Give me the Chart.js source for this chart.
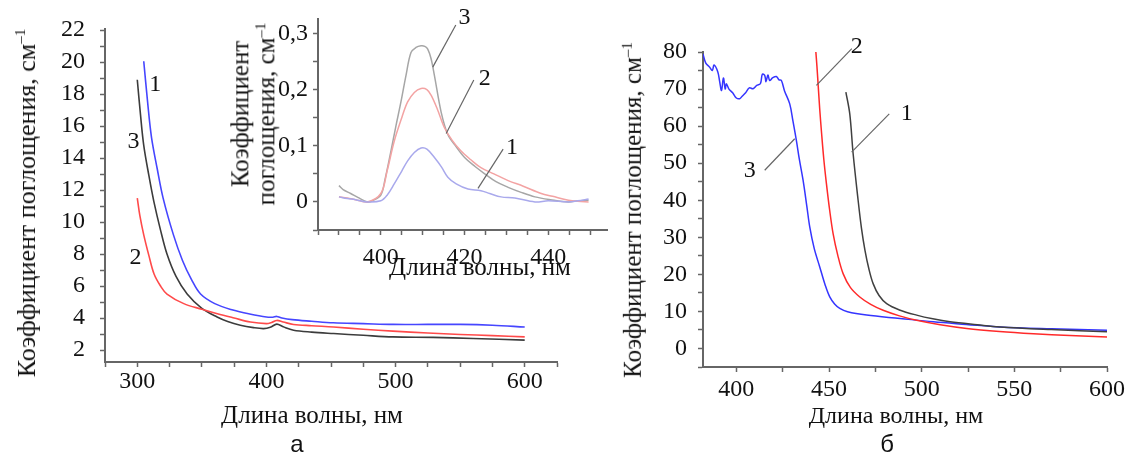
<!DOCTYPE html>
<html>
<head>
<meta charset="utf-8">
<script src="https://cdn.jsdelivr.net/npm/chart.js@4.4.0/dist/chart.umd.min.js"></script>
<style>
  body { margin: 0; background: #fff; }
  #wrap { position: relative; width: 1147px; height: 455px; background: #fff; overflow: hidden; }
  .box { position: absolute; }
  .t { position: absolute; font-family: 'Liberation Serif', serif; font-size: 24px; color: #111; white-space: nowrap; transform: translate(-50%, -50%); }
  .rot { transform: translate(-50%, -50%) rotate(-90deg); }
  .t sup { font-size: 15px; }
  .lbl { position: absolute; font-family: 'Liberation Sans', Arial, sans-serif; font-size: 24px; color: #111; transform: translate(-50%, -50%); }
</style>
</head>
<body>
<div id="wrap">
  <div class="box" style="left:0;top:0"><canvas id="chartA" width="600" height="420"></canvas></div>
  <div class="box" style="left:230px;top:0"><canvas id="chartInset" width="400" height="280"></canvas></div>
  <div class="box" style="left:640px;top:0"><canvas id="chartB" width="500" height="420"></canvas></div>

  <div class="t rot" style="left:27px;top:203px;font-size:26px">Коэффициент поглощения, см<sup>–1</sup></div>
  <div class="t" style="left:312px;top:415px;font-size:25px">Длина волны, нм</div>
  <div class="lbl" style="left:297px;top:444px">а</div>

  <div class="t rot" style="left:253px;top:114px;line-height:21px;text-align:center;font-size:25px">Коэффициент<br>поглощения, см<sup>–1</sup></div>
  <div class="t" style="left:480px;top:267px;font-size:25px">Длина волны, нм</div>

  <div class="t rot" style="left:633px;top:210px;font-size:25px">Коэффициент поглощения, см<sup>–1</sup></div>
  <div class="t" style="left:896px;top:415px">Длина волны, нм</div>
  <div class="lbl" style="left:887px;top:444px">б</div>
</div>

<script>
// --- panel a: absorption coefficient, cm^-1 vs wavelength, nm
const aWave1 = [305, 308, 311, 315.4, 320, 328, 335, 342, 349, 360, 374, 387, 400, 405, 408, 412, 420, 435, 451.8, 475, 498, 525, 550, 575, 600];
const aAbs1  = [20.06, 17.5, 15.3, 13.35, 11.5, 9.2, 7.6, 6.4, 5.5, 4.9, 4.5, 4.25, 4.06, 4.05, 4.1, 4.0, 3.9, 3.8, 3.7, 3.65, 3.6, 3.6, 3.6, 3.55, 3.44];

const aWave2 = [300, 302, 305, 309, 313, 318, 323, 336, 350, 362, 375, 387.6, 400, 404, 408, 413, 421, 435, 452, 475, 498, 525, 550, 575, 600];
const aAbs2  = [11.5, 10.4, 9.2, 7.9, 6.75, 6.0, 5.5, 4.9, 4.55, 4.27, 4.0, 3.75, 3.65, 3.72, 3.85, 3.75, 3.6, 3.52, 3.44, 3.3, 3.18, 3.06, 2.97, 2.9, 2.82];

const aWave3 = [300, 302.5, 305, 309, 312.8, 318, 323, 330, 338.6, 350, 361.8, 370, 379.8, 390, 397.8, 403, 408, 413, 421, 435, 452, 475, 498, 529, 560, 600];
const aAbs3  = [18.9, 16.7, 14.8, 12.9, 11.3, 9.5, 8.0, 6.6, 5.5, 4.6, 4.06, 3.78, 3.55, 3.4, 3.34, 3.42, 3.62, 3.45, 3.24, 3.12, 3.03, 2.92, 2.82, 2.79, 2.72, 2.62];

// --- inset: absorption band near 410 nm
const inWave1 = [390, 392, 394, 396.8, 400, 401.5, 403.2, 405, 406.4, 408, 409.6, 411, 412.8, 414.5, 416, 418, 420.8, 423.9, 426, 428.7, 432, 436.8, 440, 444.8, 447, 449.6];
const inAbs1  = [0.009, 0.006, 0.004, 0.0, 0.002, 0.012, 0.032, 0.055, 0.073, 0.088, 0.096, 0.094, 0.079, 0.062, 0.044, 0.032, 0.023, 0.02, 0.015, 0.009, 0.007, 0.0, 0.002, 0.0, 0.002, 0.005];

const inWave2 = [390, 392, 394, 396.8, 400, 401.5, 403.2, 405, 406.4, 408, 409.6, 411, 412, 413.5, 415.2, 417, 419.1, 421.5, 423.9, 427, 430.4, 434, 438.3, 441, 444.8, 447, 449.6];
const inAbs2  = [0.009, 0.007, 0.004, 0.0, 0.015, 0.055, 0.108, 0.15, 0.178, 0.195, 0.202, 0.2, 0.19, 0.165, 0.132, 0.11, 0.091, 0.075, 0.061, 0.05, 0.038, 0.028, 0.015, 0.01, 0.003, 0.001, 0.0];

const inWave3 = [390, 391, 392.8, 394.5, 396.8, 398, 400, 401, 402.4, 403.6, 404.8, 406, 407.2, 408.4, 409.6, 410.5, 411.2, 412, 412.8, 414.4, 416, 418, 420, 422.5, 424.8, 427.5, 430.4, 433.5, 436.8, 440.5, 444.8, 447, 449.6];
const inAbs3  = [0.029, 0.022, 0.015, 0.008, 0.0, 0.002, 0.012, 0.04, 0.09, 0.135, 0.178, 0.225, 0.266, 0.275, 0.278, 0.277, 0.272, 0.255, 0.225, 0.16, 0.12, 0.098, 0.079, 0.063, 0.05, 0.036, 0.026, 0.017, 0.009, 0.004, 0.0, 0.002, 0.003];

// --- panel b
const bWave1 = [459.1, 461.2, 463, 465.7, 467.5, 469.4, 471.5, 473.8, 477, 481.1, 488, 497.3, 506, 515.3, 530, 542.3, 570, 600];
const bAbs1  = [69.2, 63.3, 52.6, 40, 32.5, 26.5, 21.5, 17.5, 14.3, 12.1, 10.4, 9.0, 8.0, 7.2, 6.4, 5.8, 5.1, 4.5];

const bWave2 = [442.9, 443.5, 444.1, 445, 446, 447.2, 448.6, 450.3, 452.2, 454.8, 457.6, 461.5, 466.6, 472.5, 479.2, 488, 497.3, 510, 524.3, 542, 560.3, 580, 600];
const bAbs2  = [80, 76, 71.4, 64.5, 58, 51, 44.5, 37.5, 31, 25, 20.2, 16.5, 13.9, 11.9, 10.3, 8.8, 7.6, 6.4, 5.4, 4.6, 4.0, 3.5, 3.1];

const bWave3 = [382, 383.5, 385.6, 387, 388, 390, 391, 392, 393, 394, 394.6, 396, 398, 400, 401.8, 403, 405, 407, 409, 411, 413, 414, 415.3, 416, 417, 418, 419.5, 421.6, 423, 424.3, 426, 428.8, 430.5, 432.4, 434, 436, 438, 439.6, 442, 445, 448, 450.4, 453, 455.8, 460, 470.3, 488.3, 506.3, 524, 542.3, 570, 600];
const bAbs3  = [79.5, 77, 75.9, 75, 76.5, 74.6, 72, 69.6, 73, 70, 71.4, 70, 69, 67.6, 67.4, 68, 69, 70.3, 70.1, 71, 71.5, 74, 73.7, 72, 73.8, 72.3, 73, 73.4, 72.5, 72.3, 69.5, 66, 61.5, 56.1, 51, 45.4, 38.5, 32.8, 27, 22, 17, 13.9, 12, 10.8, 9.9, 9.0, 8.1, 7.2, 6.5, 5.8, 5.3, 4.9];

// curve numbers (data units): text position, then leader line from -> to
const aNotes = [
  { text: '1', x: 314, y: 18.6 },
  { text: '3', x: 297, y: 15.0 },
  { text: '2', x: 298.7, y: 7.8 }
];
const inNotes = [
  { text: '3', x: 420, y: 0.328, line: [417.9, 0.315, 412.4, 0.240] },
  { text: '2', x: 424.8, y: 0.219, line: [422.2, 0.217, 415.6, 0.122] },
  { text: '1', x: 431.3, y: 0.096, line: [429.2, 0.094, 423.2, 0.024] }
];
const bNotes = [
  { text: '2', x: 465, y: 81.3, line: [462.3, 80.9, 443.2, 71.0] },
  { text: '1', x: 492, y: 63.4, line: [482.5, 63.3, 462.2, 53.0] },
  { text: '3', x: 407.2, y: 48.1, line: [415.3, 48.1, 431.5, 56.6] }
];

const serif = 'Liberation Serif';

function pts(xs, ys) {
  return xs.map((x, i) => ({ x: x, y: ys[i] }));
}

function series(xs, ys, color, width) {
  return {
    data: pts(xs, ys),
    borderColor: color,
    borderWidth: width,
    pointRadius: 0,
    tension: 0.35,
    fill: false
  };
}

function notesPlugin(notes) {
  return {
    id: 'notes',
    afterDraw(chart) {
      const ctx = chart.ctx;
      const xs = chart.scales.x, ys = chart.scales.y;
      ctx.save();
      notes.forEach((n) => {
        if (n.line) {
          ctx.strokeStyle = '#666';
          ctx.lineWidth = 1.2;
          ctx.beginPath();
          ctx.moveTo(xs.getPixelForValue(n.line[0]), ys.getPixelForValue(n.line[1]));
          ctx.lineTo(xs.getPixelForValue(n.line[2]), ys.getPixelForValue(n.line[3]));
          ctx.stroke();
        }
        ctx.fillStyle = '#111';
        ctx.font = '24px ' + serif;
        ctx.textAlign = 'center';
        ctx.textBaseline = 'middle';
        ctx.fillText(n.text, xs.getPixelForValue(n.x), ys.getPixelForValue(n.y));
      });
      ctx.restore();
    }
  };
}

function axis(opts) {
  return {
    type: 'linear',
    min: opts.min,
    max: opts.max,
    border: { display: true, color: '#666', width: 2 },
    grid: { drawOnChartArea: false, drawTicks: true, tickLength: 5, color: '#666', tickWidth: 1.5 },
    ticks: {
      stepSize: opts.step,
      includeBounds: false,
      autoSkip: false,
      maxRotation: 0,
      padding: opts.pad,
      color: '#111',
      font: { family: serif, size: 24 },
      callback: opts.label
    },
    afterFit(scale) {
      if (opts.width) scale.width = opts.width;
      if (opts.height) scale.height = opts.height;
    }
  };
}

function every(n, fmt) {
  return (v) => {
    const r = Math.round(v * 1000) / 1000;
    const q = r / n;
    if (r < 0 || Math.abs(q - Math.round(q)) > 1e-6) return '';
    return fmt ? fmt(r) : String(r);
  };
}

function makeChart(id, datasets, xAx, yAx, pad, notes) {
  return new Chart(document.getElementById(id), {
    type: 'line',
    data: { datasets: datasets },
    options: {
      responsive: false,
      animation: false,
      layout: { padding: pad, autoPadding: false },
      plugins: { legend: { display: false }, tooltip: { enabled: false } },
      scales: { x: xAx, y: yAx }
    },
    plugins: [notesPlugin(notes)]
  });
}

// panel a
makeChart('chartA', [
  series(aWave1, aAbs1, '#4646ff', 1.6),
  series(aWave2, aAbs2, '#ff4a4a', 1.6),
  series(aWave3, aAbs3, '#3c3c3c', 1.6)
],
  axis({ min: 275, max: 625, step: 25, pad: 0, height: 40, label: every(100) }),
  axis({ min: 1.25, max: 22.05, step: 1, pad: 15, width: 60, label: every(2) }),
  { left: 45, top: 25, right: 43, bottom: 18 },
  aNotes);

// inset
makeChart('chartInset', [
  series(inWave1, inAbs1, '#a9a9ec', 1.5),
  series(inWave2, inAbs2, '#f3a3a3', 1.5),
  series(inWave3, inAbs3, '#a6a6a6', 1.5)
],
  axis({ min: 385, max: 454, step: 5, pad: 8, height: 40, label: every(20) }),
  axis({ min: -0.05, max: 0.325, step: 0.05, pad: 5, width: 50, label: every(0.1, (r) => String(r).replace('.', ',')) }),
  { left: 38, top: 18, right: 23, bottom: 10 },
  inNotes);

// panel b
makeChart('chartB', [
  series(bWave1, bAbs1, '#404040', 1.5),
  series(bWave2, bAbs2, '#ff2a2a', 1.5),
  series(bWave3, bAbs3, '#3535ff', 1.5)
],
  axis({ min: 382, max: 600, step: 25, pad: 3, height: 40, label: every(50) }),
  axis({ min: -5, max: 80, step: 5, pad: 11, width: 50, label: every(10) }),
  { left: 13, top: 52, right: 33, bottom: 13 },
  bNotes);
</script>
</body>
</html>
